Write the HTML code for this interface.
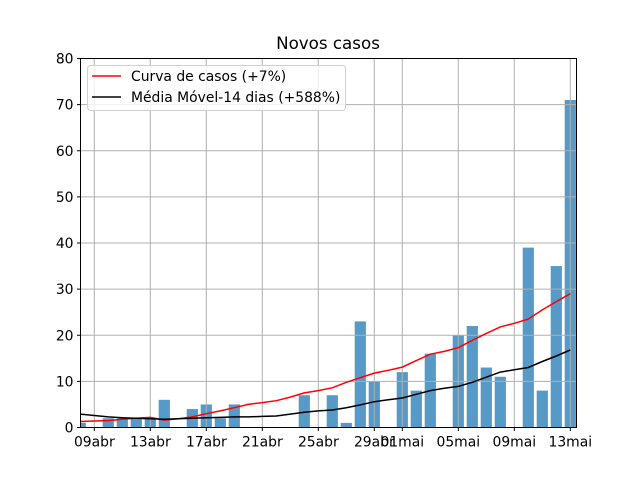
<!DOCTYPE html>
<html><head><meta charset="utf-8"><style>
body{margin:0;background:#fff;}
svg{display:block;font-family:"DejaVu Sans","Liberation Sans",sans-serif;}
</style></head><body>
<svg id="chart" width="640" height="480" viewBox="0 0 640 480"></svg>
<script>
const dates = ["08abr","09abr","10abr","11abr","12abr","13abr","14abr","15abr","16abr","17abr","18abr","19abr","20abr","21abr","22abr","23abr","24abr","25abr","26abr","27abr","28abr","29abr","30abr","01mai","02mai","03mai","04mai","05mai","06mai","07mai","08mai","09mai","10mai","11mai","12mai","13mai"];
const cases = [1,0,2,2,2,2,6,0,4,5,2,5,0,0,0,0,7,0,7,1,23,10,0,12,8,16,0,20,22,13,11,0,39,8,35,71];
const curve = [1.3,1.4,1.5,1.8,2.0,2.2,1.6,1.9,2.3,3.0,3.6,4.3,5.0,5.4,5.8,6.6,7.5,8.0,8.6,9.8,10.8,11.8,12.4,13.1,14.5,15.9,16.5,17.3,18.9,20.4,21.8,22.6,23.5,25.5,27.3,29.0];
const movingAvg = [2.9,2.6,2.3,2.1,2.0,1.9,1.8,1.9,2.0,2.1,2.2,2.3,2.3,2.4,2.5,2.9,3.3,3.6,3.8,4.3,4.9,5.6,6.0,6.4,7.2,8.0,8.5,8.9,9.8,10.9,12.0,12.5,13.0,14.3,15.5,16.8];
const yTicks = [0,10,20,30,40,50,60,70,80];
const xTickLabels = ["09abr","13abr","17abr","21abr","25abr","29abr","01mai","05mai","09mai","13mai"];

const NS="http://www.w3.org/2000/svg";
const svg=document.getElementById('chart');
const L=80.5,R=576.5,T=58.5,B=427.5;
const x0=80.3, dx=14.0;
const xs=i=>x0+i*dx;
const ys=v=>B-(v/80)*(B-T);
function mk(tag,attrs,parent){const e=document.createElementNS(NS,tag);for(const k in attrs)e.setAttribute(k,attrs[k]);(parent||svg).appendChild(e);return e;}

const clip=mk('clipPath',{id:'clip'});mk('rect',{x:L,y:T,width:R-L,height:B-T},clip);

const gb=mk('g',{'clip-path':'url(#clip)'});


cases.forEach((v,i)=>{if(v<=0)return;
  const r=mk('rect',{x:xs(i)-5.6,y:ys(v),width:11.2,height:B-ys(v),fill:'#5799c7'},gb);
  
  
});
const gg=mk('g',{stroke:'#b0b0b0','stroke-width':1});


yTicks.forEach(v=>{mk('line',{x1:L,x2:R,y1:ys(v),y2:ys(v)},gg);});
xTickLabels.forEach(lbl=>{const i=dates.indexOf(lbl);mk('line',{x1:xs(i),x2:xs(i),y1:T,y2:B},gg);});
function line(arr,color,name){const p=arr.map((v,i)=>(i?'L':'M')+xs(i).toFixed(1)+','+ys(v).toFixed(1)).join(' ');
  const e=mk('path',{d:p,fill:'none',stroke:color,'stroke-width':1.5,'clip-path':'url(#clip)'});
  
  }
line(curve,'#ff0000','curva-de-casos-line');
line(movingAvg,'#000000','media-movel-line');
const fr=mk('rect',{x:L,y:T,width:R-L,height:B-T,fill:'none',stroke:'#000','stroke-width':1});


yTicks.forEach(v=>{mk('line',{x1:L-3.5,x2:L,y1:ys(v),y2:ys(v),stroke:'#000'});
  const t=mk('text',{x:L-7,y:ys(v)+5,'text-anchor':'end','font-size':13.9});t.textContent=v;
  
  });
xTickLabels.forEach(lbl=>{const i=dates.indexOf(lbl);mk('line',{x1:xs(i),x2:xs(i),y1:B,y2:B+3.5,stroke:'#000'});
  const t=mk('text',{x:xs(i),y:B+19,'text-anchor':'middle','font-size':13.9});t.textContent=lbl;
  
  });
const tt=mk('text',{x:328,y:49,'text-anchor':'middle','font-size':16.7});tt.textContent='Novos casos';


const lg=mk('g',{});


mk('rect',{x:87.5,y:65.5,width:258,height:45,rx:3,fill:'#fff','fill-opacity':0.8,stroke:'#d0d0d0'},lg);
mk('line',{x1:92,x2:121,y1:76,y2:76,stroke:'#ff0000','stroke-width':1.5},lg);
mk('line',{x1:92,x2:121,y1:97,y2:97,stroke:'#000','stroke-width':1.5},lg);
const t1=mk('text',{x:131,y:81,'font-size':13.9},lg);t1.textContent='Curva de casos (+7%)';


const t2=mk('text',{x:131,y:102,'font-size':13.9},lg);t2.textContent='Média Móvel-14 dias (+588%)';


</script>
</body></html>
